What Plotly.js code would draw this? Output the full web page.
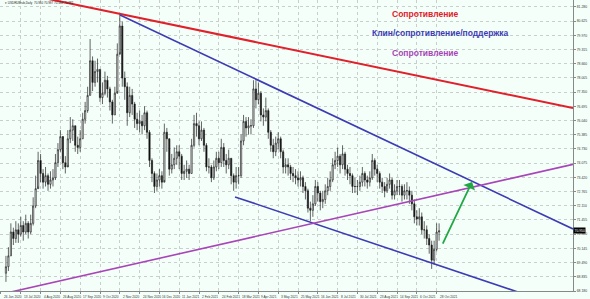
<!DOCTYPE html>
<html><head><meta charset="utf-8">
<script src="https://cdn.plot.ly/plotly-3.0.1.min.js"></script>
<style>html,body{margin:0;padding:0;background:#f5fffa;} #chart{width:590px;height:299px;}</style>
</head><body><div id="chart"></div>
<script>
// bar index (trading days) of each candle
const barIdx = [4,6,8,10,12,14,16,18,20,22,24,26,28,30,32,34,36,38,40,42,44,46,48,50,52,54,56,58,60,62,64,66,68,70,72,74,76,78,80,82,84,86,88,90,92,94,96,98,100,102,104,106,108,110,112,114,116,118,120,122,124,126,128,130,132,134,136,138,140,142,144,146,148,150,152,154,156,158,160,162,164,166,168,170,172,174,176,178,180,182,184,186,188,190,192,194,196,198,200,202,204,206,208,210,212,214,216,218,220,222,224,226,228,230,232,234,236,238,240,242,244,246,248,250,252,254,256,258,260,262,264,266,268,270,272,274,276,278,280,282,284,286,288,290,292,294,296,298,300,302,304,306,308,310,312,314,316,318,320,322,324,326,328,330,332,334,336,338,340,342,344,346,348,350,352,354];
const closeP = [69.3,69.8,70.9,70.6,71.0,70.8,71.2,70.9,71.3,70.9,71.3,72.1,72.9,74.2,73.6,73.2,73.5,73.1,73.3,73.4,74.1,74.7,75.3,74.1,73.9,75.2,75.6,75.8,74.9,74.8,75.2,76.1,76.5,77.2,78.8,77.8,78.3,78.4,77.1,77.3,77.9,77.5,76.9,76.3,77.3,79.1,80.4,78.0,77.6,76.4,77.2,76.8,76.1,75.9,76.0,75.8,76.4,75.5,74.2,73.6,73.0,73.3,73.5,73.2,75.5,75.2,73.8,74.0,74.3,74.6,74.4,73.6,73.7,73.8,73.6,74.9,75.9,75.8,75.2,75.6,74.9,73.9,73.9,73.4,73.9,74.3,74.1,74.8,74.2,74.0,74.3,73.5,73.2,73.5,73.5,75.1,76.0,75.7,75.8,75.8,77.5,77.0,77.3,76.3,76.2,76.5,75.5,74.9,74.6,75.0,75.2,74.6,73.9,74.0,73.9,73.6,73.5,73.4,73.3,73.4,73.0,72.8,72.0,71.9,72.2,73.0,72.7,72.3,72.4,72.8,73.0,73.3,74.0,74.2,74.4,74.0,74.5,73.8,73.6,73.5,73.0,73.0,73.0,73.2,73.6,73.3,73.2,73.4,74.2,73.8,73.6,73.2,73.0,72.8,73.1,73.3,72.6,72.8,73.0,73.0,72.6,72.8,72.8,72.6,72.2,71.6,71.5,71.6,71.0,71.0,70.6,70.3,69.6,70.1,70.9,70.95];
const highP = [69.8,70.2,71.3,71.1,71.4,71.3,71.6,71.4,71.7,71.4,71.7,72.5,73.5,74.6,74.5,73.8,73.9,73.6,73.7,73.8,74.5,75.0,75.6,75.2,74.4,75.6,76.2,76.1,75.8,75.3,75.6,76.4,76.9,77.6,79.8,79.0,78.8,78.9,78.4,77.8,78.3,78.1,77.6,77.0,77.6,79.6,80.95,80.6,78.3,77.8,77.6,77.5,76.9,76.4,76.5,76.3,76.7,76.5,75.6,74.3,73.7,73.6,73.8,73.7,75.9,75.7,75.1,74.5,74.8,74.9,74.9,74.5,74.0,74.2,74.0,75.2,76.3,76.4,76.0,76.0,75.7,75.0,74.3,74.0,74.2,74.6,74.6,75.2,75.0,74.5,74.7,74.3,73.6,73.9,73.9,75.4,76.3,76.2,76.2,76.1,77.9,77.9,77.8,77.4,76.6,77.1,76.6,75.6,75.2,75.3,75.5,75.3,74.7,74.3,74.3,74.0,73.9,73.8,73.7,73.7,73.5,73.2,72.9,72.3,72.6,73.3,73.2,72.8,72.8,73.1,73.4,73.7,74.3,74.6,74.8,74.5,74.9,74.6,74.0,73.9,73.6,73.4,73.3,73.5,73.9,73.7,73.5,73.7,74.5,74.3,74.0,73.7,73.4,73.2,73.4,73.6,73.4,73.1,73.3,73.3,73.1,73.1,73.2,73.0,72.8,72.4,71.9,72.0,71.8,71.4,71.2,70.8,70.5,70.5,71.3,71.3];
const lowP = [68.6,69.1,69.8,70.3,70.4,70.4,70.7,70.5,70.8,70.6,70.8,71.2,72.0,73.0,73.2,72.9,73.0,72.8,72.9,73.0,73.3,73.9,74.6,73.8,73.6,74.0,75.0,75.1,74.6,74.5,74.6,75.2,75.9,76.4,77.2,77.4,77.6,77.8,76.9,76.8,77.2,77.1,76.5,75.9,76.3,77.4,79.2,77.6,77.0,75.8,76.2,76.3,75.7,75.6,75.5,75.4,75.6,75.2,73.9,73.2,72.7,72.8,73.0,72.9,73.3,74.6,73.5,73.6,73.8,74.0,73.8,73.3,73.3,73.4,73.3,73.6,74.8,75.3,74.9,75.1,74.6,73.7,73.6,73.2,73.3,73.7,73.8,73.9,73.9,73.6,73.8,73.1,72.8,72.9,73.1,73.4,74.9,75.3,75.4,75.4,75.7,76.6,76.8,76.0,75.8,76.0,75.2,74.6,74.3,74.4,74.7,74.3,73.6,73.6,73.5,73.3,73.2,73.1,73.0,73.0,72.7,72.4,71.8,71.4,71.6,72.1,72.3,71.9,72.0,72.2,72.6,72.8,73.2,73.8,73.9,73.6,73.8,73.5,73.3,73.1,72.7,72.7,72.6,72.8,73.0,73.0,72.9,73.0,73.3,73.5,73.2,72.9,72.7,72.5,72.7,72.9,72.4,72.4,72.6,72.6,72.3,72.4,72.4,72.2,71.9,71.3,71.2,71.2,70.8,70.6,70.3,69.9,69.2,69.4,70.0,70.5];
const firstOpen = 69.0;

// time axis labels (bar index -> label)
const tickBars = [0,16,32,48,64,80,96,112,128,144,160,176,192,208,224,240,256,272,288,304,320,336,352];
const tickLabels = ["26 Jun 2020","13 Jul 2020","4 Aug 2020","26 Aug 2020","17 Sep 2020","9 Oct 2020","2 Nov 2020","24 Nov 2020","16 Dec 2020","11 Jan 2021","2 Feb 2021","24 Feb 2021","18 Mar 2021","9 Apr 2021","3 May 2021","25 May 2021","16 Jun 2021","8 Jul 2021","30 Jul 2021","23 Aug 2021","14 Sep 2021","6 Oct 2021","28 Oct 2021"];
const priceTicks = [81.280,80.625,79.970,79.315,78.660,78.005,77.350,76.695,76.040,75.385,74.730,74.075,73.420,72.765,72.110,71.455,70.800,70.145,69.490,68.835,68.180];

// trend lines [bar, price]
const redLineX = [-0.8, 462.2], redLineY = [82.11, 76.62];
const wedgeTopX = [96.2, 462.2], wedgeTopY = [80.91, 71.04];
const wedgeBotX = [189.1, 419.4], wedgeBotY = [72.52, 68.10];
const purpleX = [-0.8, 462.2], purpleY = [68.02, 74.02];
const arrowFrom = [356.4, 70.30], arrowTo = [380.6, 73.21];
const lastPrice = 70.95;
const headerText = "\u25BE USDRUBrub,Daily  70.950 70.997 70.550 70.682";

const openP = [firstOpen].concat(closeP.slice(0, -1));

const bg = '#f5fffa';
const traces = [
  {type:'candlestick', x:barIdx, open:openP, high:highP, low:lowP, close:closeP,
   increasing:{line:{color:'#222', width:0.7}, fillcolor:'#ffffff'},
   decreasing:{line:{color:'#222', width:0.7}, fillcolor:'#000000'},
   whiskerwidth:0, hoverinfo:'skip', showlegend:false},
  {type:'scatter', mode:'lines', x:redLineX, y:redLineY, line:{color:'#e0202a', width:2}, hoverinfo:'skip', showlegend:false},
  {type:'scatter', mode:'lines', x:wedgeTopX, y:wedgeTopY, line:{color:'#3c3cb4', width:1.6}, hoverinfo:'skip', showlegend:false},
  {type:'scatter', mode:'lines', x:wedgeBotX, y:wedgeBotY, line:{color:'#3c3cb4', width:1.6}, hoverinfo:'skip', showlegend:false},
  {type:'scatter', mode:'lines', x:purpleX, y:purpleY, line:{color:'#a845b8', width:1.6}, hoverinfo:'skip', showlegend:false}
];

const W = 573, H = 291;
const font = 'Liberation Sans, Arial';
const annotations = [
  {xref:'paper', yref:'paper', x:3/W, y:1-3/H, xanchor:'left', yanchor:'middle', showarrow:false, text:headerText, font:{family:font, size:3, color:'#222'}},
  {xref:'paper', yref:'paper', x:425/W, y:1-14/H, xanchor:'center', yanchor:'middle', showarrow:false, text:'<b>Сопротивление</b>', font:{family:font, size:8.5, color:'#e0202a'}},
  {xref:'paper', yref:'paper', x:440/W, y:1-33/H, xanchor:'center', yanchor:'middle', showarrow:false, text:'<b>Клин/сопротивление/поддержка</b>', font:{family:font, size:8.5, color:'#3c3cb4'}},
  {xref:'paper', yref:'paper', x:425/W, y:1-53/H, xanchor:'center', yanchor:'middle', showarrow:false, text:'<b>Сопротивление</b>', font:{family:font, size:8.5, color:'#a845b8'}},
  {xref:'x', yref:'y', axref:'x', ayref:'y', x:arrowTo[0], y:arrowTo[1], ax:arrowFrom[0], ay:arrowFrom[1], showarrow:true, text:'', arrowhead:1, arrowsize:1.2, arrowwidth:1.8, arrowcolor:'#20a845'},
  {xref:'paper', yref:'y', x:1, y:lastPrice, xanchor:'left', yanchor:'middle', showarrow:false, text:lastPrice.toFixed(3), bgcolor:'#000', borderpad:0.5, font:{family:font, size:3.4, color:'#fff'}}
];
tickBars.forEach((b, i) => annotations.push({xref:'x', yref:'paper', x:b, y:0, xanchor:'left', yanchor:'top', yshift:-2, xshift:1, showarrow:false, text:tickLabels[i], font:{family:font, size:3.2, color:'#333'}}));

const layout = {
  width:590, height:299,
  margin:{l:0, r:17, t:0, b:8},
  paper_bgcolor:bg, plot_bgcolor:bg,
  showlegend:false,
  xaxis:{range:[-0.8, 462.2], tickvals:tickBars, showticklabels:false, showgrid:true, gridcolor:'#c9cfcc', griddash:'dot', gridwidth:1,
         zeroline:false, showline:true, linecolor:'#888', ticks:'outside', ticklen:2, tickcolor:'#888', rangeslider:{visible:false}, fixedrange:true},
  yaxis:{range:[68.18, 81.60], side:'right', tickvals:priceTicks, ticktext:priceTicks.map(v=>v.toFixed(3)),
         showgrid:true, gridcolor:'#c9cfcc', griddash:'dot', gridwidth:1, zeroline:false, showline:true, linecolor:'#888',
         ticks:'outside', ticklen:2, tickcolor:'#888', tickfont:{family:font, size:3.4, color:'#333'}, fixedrange:true},
  annotations:annotations
};
Plotly.newPlot('chart', traces, layout, {staticPlot:true, displayModeBar:false});
</script></body></html>
